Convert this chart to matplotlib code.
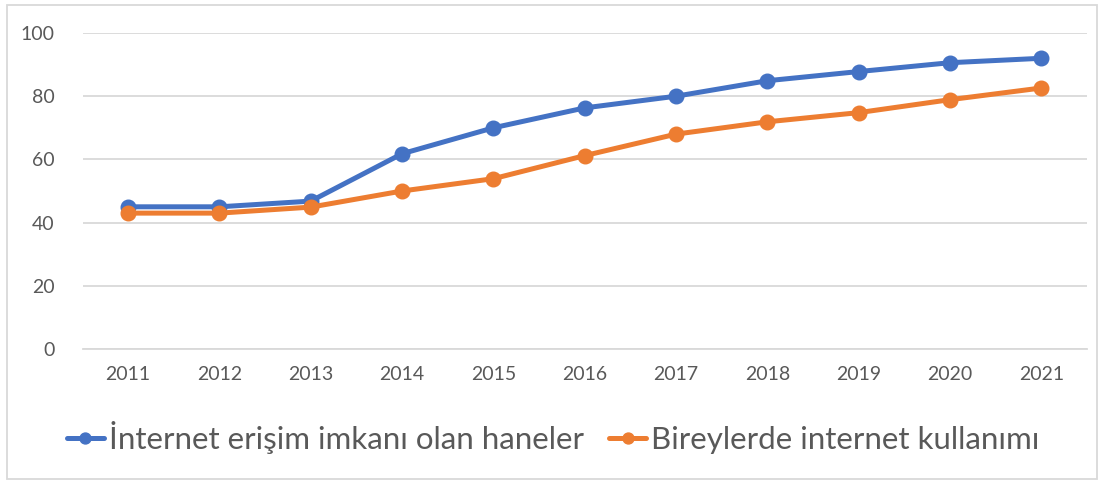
import matplotlib.pyplot as plt
from matplotlib.patches import Rectangle

yillar = ['2011', '2012', '2013', '2014', '2015', '2016', '2017', '2018', '2019', '2020', '2021']
haneler = [45, 45, 46.8, 61.8, 70, 76.3, 80, 84.9, 87.8, 90.6, 92]
bireyler = [43, 43, 44.9, 50, 53.9, 61.2, 68, 71.9, 74.8, 78.9, 82.6]

etiketler = ['İnternet erişim imkanı olan haneler', 'Bireylerde internet kullanımı']
renkler = ['#4472C4', '#ED7D31']

plt.rcParams['font.family'] = ['Lato', 'DejaVu Sans']

fig = plt.figure(figsize=(11.06, 4.84), dpi=100)
ax = fig.add_axes([82.5 / 1106, 1 - 349 / 484, (1087 - 82.5) / 1106, (349 - 33) / 484])

x = list(range(len(yillar)))
for seri, renk, etiket in zip([haneler, bireyler], renkler, etiketler):
    ax.plot(x, seri, color=renk, lw=3.6, marker='o', ms=10.5, label=etiket,
            solid_capstyle='round', zorder=3)

ax.set_xlim(-0.5, len(yillar) - 0.5)
ax.set_ylim(0, 100)
ax.set_yticks(range(0, 101, 20))
ax.set_xticks(x)
ax.set_xticklabels(yillar)
ax.grid(axis='y', color='#D9D9D9', lw=1.3)
ax.set_axisbelow(True)
for s in ['top', 'right', 'left']:
    ax.spines[s].set_visible(False)
ax.spines['bottom'].set_color('#D9D9D9')
ax.spines['bottom'].set_linewidth(1.3)
ax.tick_params(length=0, labelsize=14, colors='#595959', pad=12)
ax.tick_params(axis='y', pad=20)

fig.legend(loc='center', bbox_to_anchor=(0.5, 1 - 437 / 484), ncol=2, frameon=False,
           fontsize=22.5, labelcolor='#595959', handlelength=1.2, handletextpad=0.15,
           columnspacing=0.8, markerscale=0.75)

fig.patches.append(Rectangle((7 / 1106, 5 / 484), 1090 / 1106, 474 / 484, transform=fig.transFigure,
                             fill=False, edgecolor='#D9D9D9', lw=1.3))

fig.savefig('out.png', dpi=100, facecolor='white')
